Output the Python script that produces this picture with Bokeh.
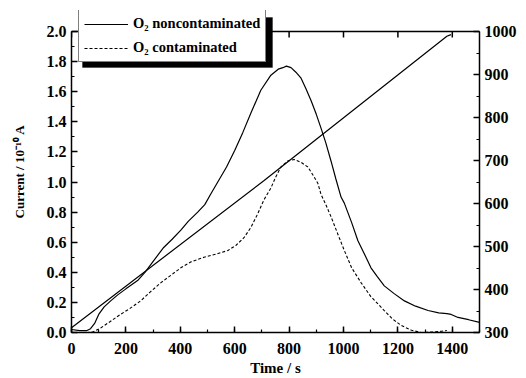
import math
from bokeh.plotting import figure
from bokeh.models import (Range1d, LinearAxis, SingleIntervalTicker, PrintfTickFormatter,
                          Legend, LegendItem, Span, BoxAnnotation)
from bokeh.embed import file_html
from bokeh.resources import INLINE

# --- data ---
t_non = [0, 30, 55, 70, 85, 100, 120, 144, 170, 200, 243, 270, 303, 339, 370, 402, 430, 464,
         490, 512, 541, 570, 600, 630, 660, 696, 733, 760, 777, 790, 807, 825, 844, 862, 881,
         900, 917, 935, 954, 972, 991, 1003, 1030, 1053, 1080, 1101, 1125, 1150, 1185, 1224,
         1265, 1311, 1350, 1380, 1396, 1421, 1460, 1500]
i_non = [0.02, 0.012, 0.012, 0.025, 0.06, 0.12, 0.17, 0.21, 0.25, 0.29, 0.345, 0.40, 0.48,
         0.565, 0.62, 0.68, 0.74, 0.80, 0.85, 0.92, 1.01, 1.10, 1.21, 1.33, 1.46, 1.61, 1.71,
         1.75, 1.76, 1.77, 1.76, 1.73, 1.69, 1.62, 1.54, 1.45, 1.36, 1.26, 1.14, 1.02, 0.90,
         0.86, 0.73, 0.61, 0.51, 0.43, 0.37, 0.31, 0.26, 0.21, 0.175, 0.146, 0.13, 0.125,
         0.12, 0.10, 0.085, 0.067]

t_con = [0, 60, 80, 107, 140, 180, 215, 254, 290, 328, 365, 402, 440, 487, 530, 575, 605,
         634, 660, 685, 707, 733, 750, 770, 795, 818, 845, 869, 890, 906, 917, 935, 954, 980,
         1003, 1030, 1065, 1100, 1150, 1180, 1212, 1250, 1286, 1330, 1360, 1380]
i_con = [0.0, 0.0, 0.005, 0.03, 0.07, 0.12, 0.16, 0.21, 0.27, 0.33, 0.38, 0.43, 0.47, 0.50,
         0.52, 0.545, 0.58, 0.63, 0.70, 0.79, 0.88, 0.96, 1.03, 1.10, 1.14, 1.15, 1.13, 1.10,
         1.04, 0.99, 0.92, 0.85, 0.77, 0.65, 0.545, 0.43, 0.33, 0.24, 0.146, 0.09, 0.047,
         0.015, 0.0, 0.003, 0.008, 0.013]

t_temp = [0, 707, 1380, 1395]
temp = [311, 653, 989, 993]

x_ticks = [0, 200, 400, 600, 800, 1000, 1200, 1400]

label_non = "O\u2082 noncontaminated"
label_con = "O\u2082 contaminated"
x_label = "Time / s"
y_label = "Current / 10\u207b\u00b9\u2070 A"

FONT = "Liberation Serif"

I_MIN, I_MAX = 0.0, 2.0
T_MIN, T_MAX = 300, 1000
HEADROOM = 0.14  # extra room above the axes box for the legend
t_top = T_MIN + (I_MAX + HEADROOM) * (T_MAX - T_MIN) / (I_MAX - I_MIN)

p = figure(width=526, height=378, output_backend="svg", toolbar_location=None,
           x_range=Range1d(0, 1500), y_range=Range1d(I_MIN, I_MAX + HEADROOM),
           min_border_left=71, min_border_right=47, min_border_top=10, min_border_bottom=46)
p.extra_y_ranges = {"T": Range1d(T_MIN, t_top)}
p.xgrid.visible = False
p.ygrid.visible = False
p.outline_line_color = None
p.background_fill_color = "white"
p.border_fill_color = "white"

r_non = p.line(t_non, i_non, line_color="black", line_width=1.2)
r_con = p.line(t_con, i_con, line_color="black", line_width=1.1, line_dash="3 2")
p.line(t_temp, temp, y_range_name="T", line_color="black", line_width=1.2)

# top border of the axes box with inward ticks
p.add_layout(Span(location=I_MAX, dimension="width", line_color="black", line_width=1.5))
p.ray(x=x_ticks, y=[I_MAX] * len(x_ticks), length=6, length_units="screen",
      angle=-math.pi / 2, line_color="black", line_width=1.5)


def style_axis(ax):
    ax.axis_line_width = 1.5
    ax.major_tick_line_width = 1.5
    ax.minor_tick_line_width = 1.2
    ax.major_tick_in = 6
    ax.major_tick_out = 0
    ax.minor_tick_in = 3
    ax.minor_tick_out = 0
    ax.major_label_text_font = FONT
    ax.major_label_text_font_style = "bold"
    ax.major_label_text_font_size = "16px"
    ax.major_label_text_color = "black"
    ax.axis_label_text_font = FONT
    ax.axis_label_text_font_style = "bold"
    ax.axis_label_text_color = "black"


xa = p.xaxis[0]
xa.ticker = SingleIntervalTicker(interval=200, num_minor_ticks=2)
style_axis(xa)
xa.major_label_standoff = 10
xa.axis_label = x_label
xa.axis_label_text_font_size = "15px"
xa.axis_label_standoff = 3

ya = p.yaxis[0]
ya.ticker = SingleIntervalTicker(interval=0.2, num_minor_ticks=2)
ya.formatter = PrintfTickFormatter(format="%.1f")
ya.bounds = (I_MIN, I_MAX)
style_axis(ya)
ya.major_label_standoff = 5
ya.axis_label = y_label
ya.axis_label_text_font_size = "13px"
ya.axis_label_standoff = 17

ra = LinearAxis(y_range_name="T", ticker=SingleIntervalTicker(interval=100, num_minor_ticks=2),
                bounds=(T_MIN, T_MAX))
style_axis(ra)
ra.major_label_standoff = 5
p.add_layout(ra, "right")

# drop shadow behind the legend (screen units, relative to the frame)
shadow = BoxAnnotation(left=11, right=201, bottom=265, top=315,
                       left_units="screen", right_units="screen",
                       bottom_units="screen", top_units="screen",
                       fill_color="black", fill_alpha=1.0, line_color="black")
p.add_layout(shadow)

legend = Legend(items=[LegendItem(label=label_non, renderers=[r_non]),
                       LegendItem(label=label_con, renderers=[r_con])],
                location=(7, 270), orientation="vertical")
legend.label_text_font = FONT
legend.label_text_font_style = "bold"
legend.label_text_font_size = "14.5px"
legend.label_height = 16
legend.glyph_height = 16
legend.glyph_width = 44
legend.label_standoff = 5
legend.spacing = 7
legend.padding = 5
legend.margin = 0
legend.border_line_color = "black"
legend.border_line_width = 1.2
legend.background_fill_color = "white"
legend.background_fill_alpha = 1.0
legend.label_text_color = "black"
p.add_layout(legend, "center")

open("out.html", "w").write(file_html(p, INLINE))
